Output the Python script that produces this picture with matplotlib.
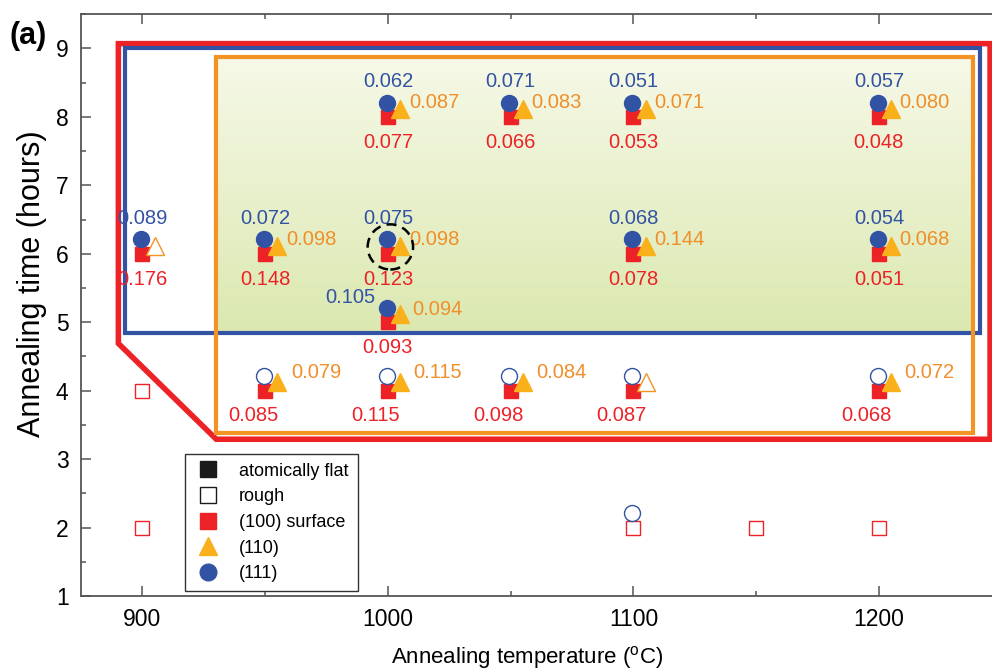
import matplotlib
matplotlib.use("Agg")
import matplotlib.pyplot as plt
import numpy as np
from matplotlib.lines import Line2D
from matplotlib.patches import Ellipse, Polygon, Rectangle
from matplotlib.ticker import MultipleLocator

FONT = ['Liberation Sans', 'DejaVu Sans']
plt.rcParams['font.family'] = FONT
plt.rcParams['mathtext.fontset'] = 'custom'
plt.rcParams['mathtext.rm'] = 'Liberation Sans'

# ---- data ----
temps = [900, 900, 900, 950, 950, 1000, 1000, 1000, 1000, 1050, 1050,
         1100, 1100, 1100, 1100, 1150, 1200, 1200, 1200, 1200]
times = [6, 4, 2, 6, 4, 8, 6, 5, 4, 8, 4, 8, 6, 4, 2, 2, 8, 6, 4, 2]
# surface state per orientation: 'flat', 'rough' or None (not measured)
s100 = ['flat', 'rough', 'rough', 'flat', 'flat', 'flat', 'flat', 'flat', 'flat', 'flat', 'flat',
        'flat', 'flat', 'flat', 'rough', 'rough', 'flat', 'flat', 'flat', 'rough']
s110 = ['rough', None, None, 'flat', 'flat', 'flat', 'flat', 'flat', 'flat', 'flat', 'flat',
        'flat', 'flat', 'rough', None, None, 'flat', 'flat', 'flat', None]
s111 = ['flat', None, None, 'flat', 'rough', 'flat', 'flat', 'flat', 'rough', 'flat', 'rough',
        'flat', 'flat', 'rough', 'rough', None, 'flat', 'flat', 'rough', None]
# roughness values shown next to the markers
r100 = [0.176, None, None, 0.148, 0.085, 0.077, 0.123, 0.093, 0.115, 0.066, 0.098,
        0.053, 0.078, 0.087, None, None, 0.048, 0.051, 0.068, None]
r110 = [None, None, None, 0.098, 0.079, 0.087, 0.098, 0.094, 0.115, 0.083, 0.084,
        0.071, 0.144, None, None, None, 0.080, 0.068, 0.072, None]
r111 = [0.089, None, None, 0.072, None, 0.062, 0.075, 0.105, None, 0.071, None,
        0.051, 0.068, None, None, None, 0.057, 0.054, None, None]

RED = '#ec2227'
BLUE = '#3253a3'
ORANGE_LINE = '#f39323'
TRI = '#f9b01b'
ORANGE_TXT = '#f08f2a'

fig = plt.figure(figsize=(9.92, 6.71), dpi=100)
ax = fig.add_axes([0.0817, 0.1118, 0.928, 0.867])
ax.set_xlim(875, 1250)
ax.set_ylim(1, 9.5)

# green shaded region
grad = np.linspace(0, 1, 256).reshape(-1, 1)
c_top = np.array([0.965, 0.976, 0.91])
c_bot = np.array([0.86, 0.91, 0.69])
img = c_top[None, None, :] * (1 - grad[:, :, None]) + c_bot[None, None, :] * grad[:, :, None]
ax.imshow(img, extent=[930.1, 1238.3, 4.84, 8.88], aspect='auto', origin='upper', zorder=0.5)

# region outlines
ax.add_patch(Polygon([[890.2, 9.07], [1245.3, 9.07], [1245.3, 3.29], [930.1, 3.29], [890.2, 4.69]],
                     closed=True, fill=False, ec=RED, lw=4.0, joinstyle='miter', zorder=1))
ax.add_patch(Rectangle((893.0, 4.84), 1241.2 - 893.0, 9.0 - 4.84, fill=False, ec=BLUE, lw=3.0,
                       joinstyle='miter', zorder=1.1))
ax.add_patch(Rectangle((930.1, 3.38), 1238.3 - 930.1, 8.88 - 3.38, fill=False, ec=ORANGE_LINE,
                       lw=3.0, joinstyle='miter', zorder=1.2))

# markers
for T, t, a, b, c in zip(temps, times, s100, s110, s111):
    if a:
        ax.plot(T, t, 's', ms=10, mec=RED, mew=1.0,
                mfc=RED if a == 'flat' else 'white', zorder=3)
    if c:
        ax.plot(T - 0.5, t + 0.21, 'o', ms=11.5, mec=BLUE, mew=1.0,
                mfc=BLUE if c == 'flat' else 'white', zorder=4)
    if b:
        ax.plot(T + 5, t + 0.12, '^', ms=12.5, mec=TRI if b == 'flat' else ORANGE_LINE, mew=1.0,
                mfc=TRI if b == 'flat' else 'white', zorder=5)

# value labels
fs = 14.5
for T, t, a, b, c in zip(temps, times, r100, r110, r111):
    if a is not None:
        dx = -5 if t == 4 else 0
        ax.text(T + dx, t - 0.37, f'{a:.3f}', color=RED, fontsize=fs, ha='center', va='center', zorder=6)
    if b is not None:
        if t == 4:
            ax.text(T + 10.5, t + 0.26, f'{b:.3f}', color=ORANGE_TXT, fontsize=fs, ha='left', va='center', zorder=6)
        elif t == 5:
            ax.text(T + 10, t + 0.18, f'{b:.3f}', color=ORANGE_TXT, fontsize=fs, ha='left', va='center', zorder=6)
        else:
            ax.text(T + 8.5, t + 0.21, f'{b:.3f}', color=ORANGE_TXT, fontsize=fs, ha='left', va='center', zorder=6)
    if c is not None:
        if t == 5:
            ax.text(T - 5, t + 0.36, f'{c:.3f}', color=BLUE, fontsize=fs, ha='right', va='center', zorder=6)
        else:
            ax.text(T, t + 0.52, f'{c:.3f}', color=BLUE, fontsize=fs, ha='center', va='center', zorder=6)

# dashed circle marking the chosen condition
ax.add_patch(Ellipse((1001, 6.1), 18.5, 0.66, fill=False, ec='black', lw=1.8, ls=(0, (4, 2.5)), zorder=7))

# axes styling
for side in ['left', 'bottom', 'top']:
    ax.spines[side].set_color('#555555')
    ax.spines[side].set_linewidth(1.3)
ax.spines['right'].set_visible(False)
ax.xaxis.set_major_locator(MultipleLocator(100))
ax.xaxis.set_minor_locator(MultipleLocator(50))
ax.yaxis.set_major_locator(MultipleLocator(1))
ax.yaxis.set_minor_locator(MultipleLocator(0.5))
ax.tick_params(which='both', direction='in', top=True, right=False, color='#555555', width=1.1)
ax.tick_params(which='major', length=7, labelsize=16.5, pad=9)
ax.tick_params(which='minor', length=3.5)

ax.set_xlabel(r'Annealing temperature ($^{\mathrm{o}}$C)', fontsize=16)
ax.set_ylabel('Annealing time (hours)', fontsize=22)
ax.xaxis.set_label_coords(0.4845, -0.083)
ax.yaxis.set_label_coords(-0.037, 0.536)

fig.text(0.01, 0.935, '(a)', fontsize=22, fontweight='bold')

handles = [
    Line2D([], [], ls='none', marker='s', ms=11, mfc='#1a1a1a', mec='#1a1a1a'),
    Line2D([], [], ls='none', marker='s', ms=11, mfc='white', mec='#1a1a1a', mew=1.0),
    Line2D([], [], ls='none', marker='s', ms=11, mfc=RED, mec=RED),
    Line2D([], [], ls='none', marker='^', ms=13, mfc=TRI, mec=TRI),
    Line2D([], [], ls='none', marker='o', ms=12, mfc=BLUE, mec=BLUE),
]
labels = ['atomically flat', 'rough', '(100) surface', '(110)', '(111)']
leg = ax.legend(handles, labels, loc='upper left', bbox_to_anchor=(0.103, 0.26), fontsize=13,
                frameon=True, fancybox=False, edgecolor='#333333', framealpha=1,
                handletextpad=0.9, labelspacing=0.48, borderpad=0.5, handlelength=1.6)
leg.get_frame().set_linewidth(1.0)
leg.set_zorder(10)

fig.savefig('out.png', dpi=100)
